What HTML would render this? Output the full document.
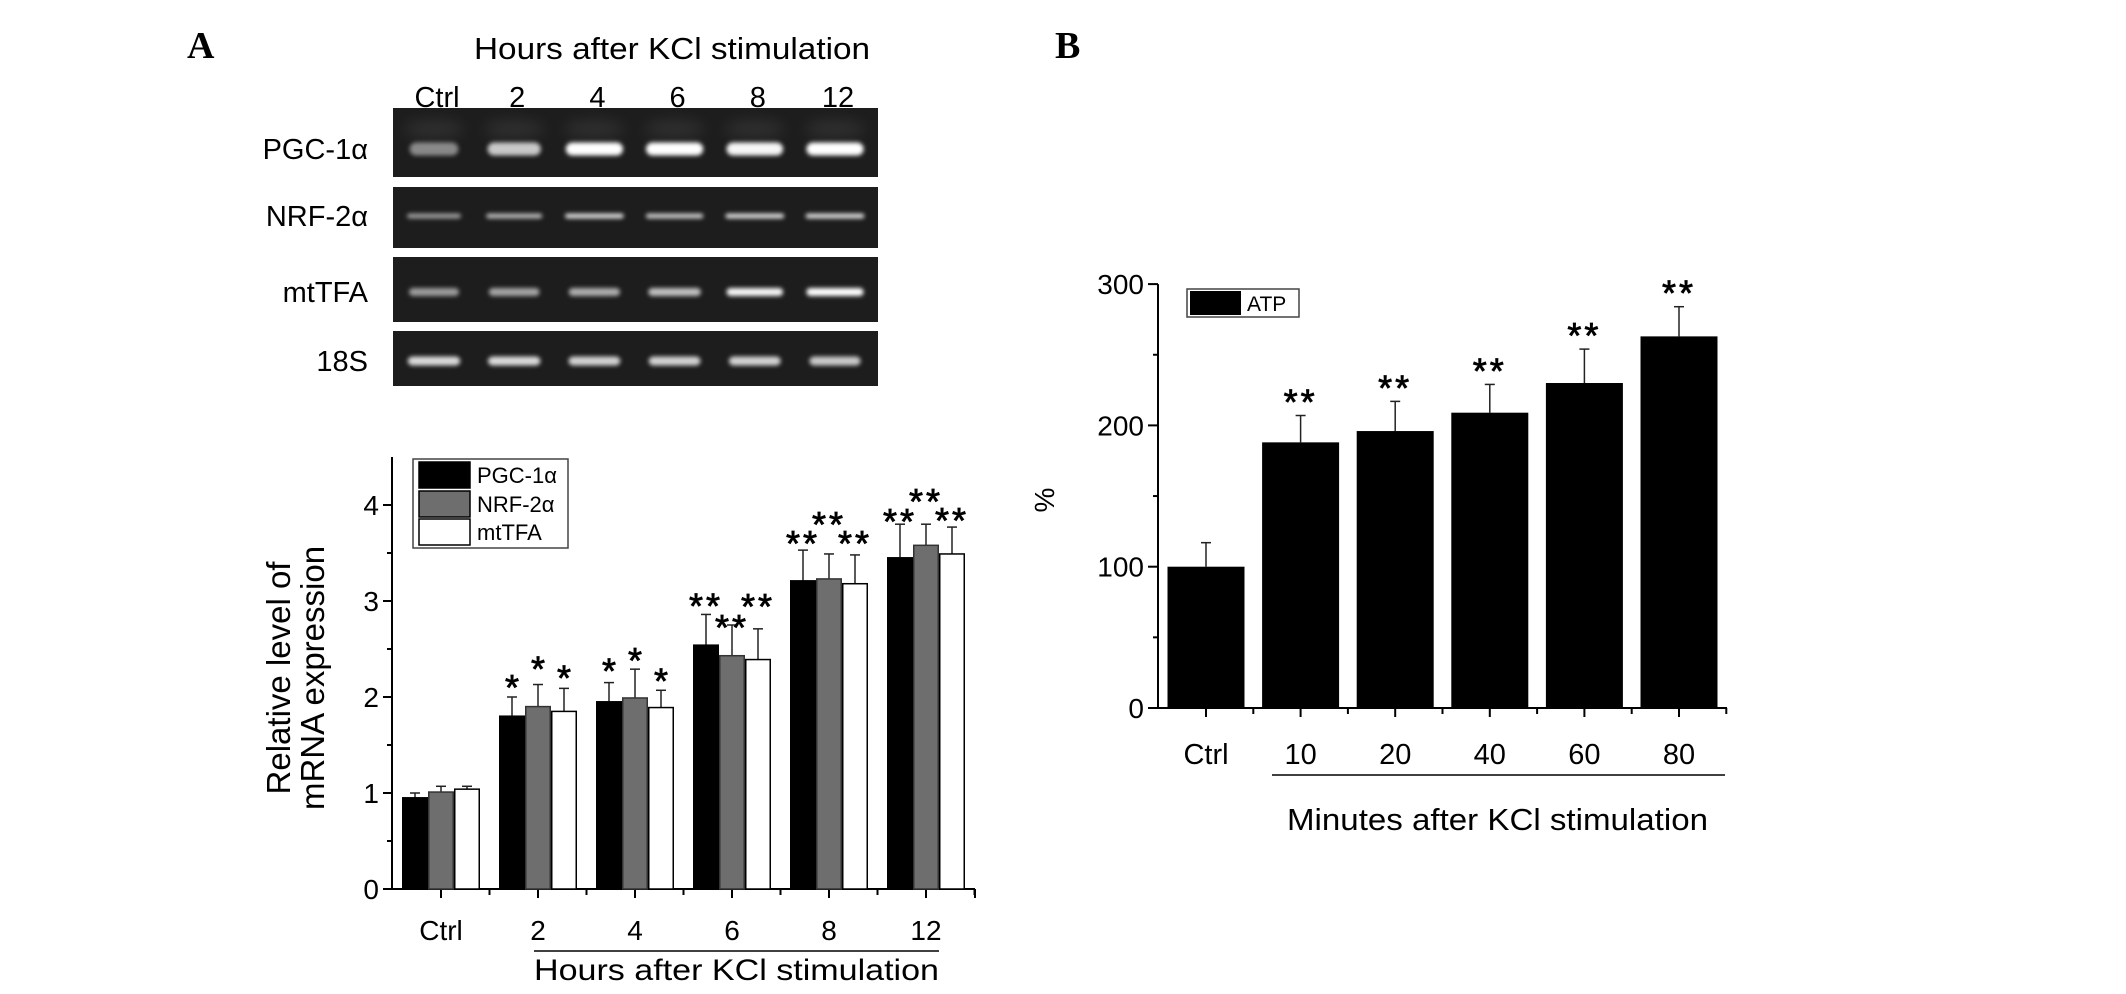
<!DOCTYPE html>
<html><head><meta charset="utf-8"><style>
html,body{margin:0;padding:0;background:#fff;}
svg{display:block;font-family:"Liberation Sans",Arial,sans-serif;}
</style></head><body>
<svg id="fig" width="2126" height="994" viewBox="0 0 2126 994" xmlns="http://www.w3.org/2000/svg">
<defs>
<filter id="blur" x="-30%" y="-100%" width="160%" height="300%"><feGaussianBlur stdDeviation="2.2"/></filter>
<filter id="glow" x="-30%" y="-200%" width="160%" height="500%"><feGaussianBlur stdDeviation="7"/></filter>
</defs>
<text x="187" y="58" font-family="Liberation Serif,serif" font-weight="bold" font-size="38">A</text>
<text x="1055" y="58" font-family="Liberation Serif,serif" font-weight="bold" font-size="38">B</text>
<text x="474" y="59" font-size="31" textLength="396" lengthAdjust="spacingAndGlyphs">Hours after KCl stimulation</text>
<g id="gel"></g>
<g id="chartA"></g>
<g id="chartB"></g>
</svg>
<script>
// ---------- Gel data ----------
const lanes = ["Ctrl","2","4","6","8","12"];
const genes = ["PGC-1α","NRF-2α","mtTFA","18S"];
const bandPGC = [0.35,0.7,1.0,1.0,0.95,1.0];
const bandNRF = [0.45,0.6,0.8,0.7,0.8,0.8];
const bandMT = [0.45,0.5,0.55,0.65,0.95,1.0];
const band18S = [0.8,0.8,0.75,0.75,0.75,0.7];

// ---------- Chart A data ----------
const catsA = ["Ctrl","2","4","6","8","12"];
const seriesA = ["PGC-1α","NRF-2α","mtTFA"];
const pgcVals = [0.95,1.80,1.95,2.54,3.21,3.45];
const nrfVals = [1.01,1.90,1.99,2.43,3.23,3.58];
const mtVals  = [1.04,1.85,1.89,2.39,3.18,3.49];
const pgcErr = [0.05,0.20,0.20,0.32,0.32,0.35];
const nrfErr = [0.06,0.23,0.30,0.32,0.26,0.22];
const mtErr  = [0.03,0.24,0.18,0.32,0.30,0.28];
const pgcSig = ["","*","*","**","**","**"];
const nrfSig = ["","*","*","**","**","**"];
const mtSig  = ["","*","*","**","**","**"];
const yTicksA = [0,1,2,3,4];

// ---------- Chart B data ----------
const catsB = ["Ctrl","10","20","40","60","80"];
const atpVals = [100,188,196,209,230,263];
const atpErr = [17,19,21,20,24,21];
const atpSig = ["","**","**","**","**","**"];
const yTicksB = [0,100,200,300];

const NS="http://www.w3.org/2000/svg";
function mk(tag, attrs, parent, txt){
  const e=document.createElementNS(NS,tag);
  for(const k in attrs) e.setAttribute(k,attrs[k]);
  if(txt!==undefined) e.textContent=txt;
  parent.appendChild(e); return e;
}

// ---------- Gel ----------
(function(){
  const g=document.getElementById('gel');
  const laneX=i=>437+80.2*i;
  lanes.forEach((l,i)=>{
    const t=mk('text',{x:laneX(i),y:107,'font-size':29,'text-anchor':'middle'},g,l);
    
    
  });
  const rows=[{y0:108,y1:177,c:149,h:13,d:bandPGC,w:52},{y0:187,y1:248,c:216,h:5,d:bandNRF,w:56},{y0:257,y1:322,c:292,h:8,d:bandMT,w:52},{y0:331,y1:386,c:361,h:9,d:band18S,w:50}];
  rows.forEach((r,ri)=>{
    const lab=mk('text',{x:368,y:r.c+10,'font-size':29,'text-anchor':'end'},g,genes[ri]);
    
    
    const bg=mk('rect',{x:393,y:r.y0,width:485,height:r.y1-r.y0,fill:'#1d1d1d'},g);
    
    
    r.d.forEach((v,i)=>{
      const cx=laneX(i)-3;
      if(ri===0){ mk('ellipse',{cx:cx,cy:r.c-20,rx:30,ry:9,fill:'#fff',opacity:0.08,filter:'url(#glow)'},g); }
      const w=r.w*(0.85+0.25*v);
      const b=mk('rect',{x:cx-w/2,y:r.c-r.h/2,width:w,height:r.h,rx:r.h/2,fill:'#fff',opacity:0.2+0.8*v,filter:'url(#blur)'},g);
      
      
    });
  });
})();

// ---------- Chart A ----------
(function(){
  const g=document.getElementById('chartA');
  const x0=392,y0=889,unit=96,xEnd=975;
  const ys=v=>y0-v*unit;
  const xc=i=>441+97*i;
  const bw=26;
  mk('line',{x1:x0,y1:ys(4.5),x2:x0,y2:y0,stroke:'#000','stroke-width':2},g);
  mk('line',{x1:x0,y1:y0,x2:xEnd,y2:y0,stroke:'#000','stroke-width':2},g);
  yTicksA.forEach(t=>{
    mk('line',{x1:x0-9,y1:ys(t),x2:x0,y2:ys(t),stroke:'#000','stroke-width':2},g);
    const tl=mk('text',{x:x0-13,y:ys(t)+10,'font-size':28,'text-anchor':'end'},g,String(t));
    
    
    if(t<4) mk('line',{x1:x0-5,y1:ys(t+0.5),x2:x0,y2:ys(t+0.5),stroke:'#000','stroke-width':2},g);
  });
  const series=[{v:pgcVals,e:pgcErr,s:pgcSig,f:'#000',sf:'#000'},{v:nrfVals,e:nrfErr,s:nrfSig,f:'#6e6e6e',sf:'#333'},{v:mtVals,e:mtErr,s:mtSig,f:'#fff',sf:'#000'}];
  const lift=[[0,0,0],[18,24,19],[20,17,18],[17,6,31],[15,38,20],[11,31,15]];
  catsA.forEach((c,i)=>{
    const cx=xc(i);
    mk('line',{x1:cx,y1:y0,x2:cx,y2:y0+9,stroke:'#000','stroke-width':2},g);
    mk('line',{x1:cx+48.5,y1:y0,x2:cx+48.5,y2:y0+6,stroke:'#000','stroke-width':2},g);
    const xl=mk('text',{x:cx,y:940,'font-size':28,'text-anchor':'middle'},g,c);
    
    
    series.forEach((s,k)=>{
      const bx=cx-39+k*bw;
      const top=ys(s.v[i]), et=ys(s.v[i]+s.e[i]);
      mk('line',{x1:bx+bw/2,y1:top,x2:bx+bw/2,y2:et,stroke:'#222','stroke-width':1.5},g);
      mk('line',{x1:bx+bw/2-5,y1:et,x2:bx+bw/2+5,y2:et,stroke:'#222','stroke-width':1.5},g);
      const r=mk('rect',{x:bx+0.75,y:top,width:bw-1.5,height:y0-top,fill:s.f,stroke:s.sf,'stroke-width':1.5},g);
      
      
      if(s.s[i]){
        const st=mk('text',{x:bx+bw/2,y:et-lift[i][k]+21,'font-size':36,'stroke':'#000','stroke-width':0.8,'text-anchor':'middle','letter-spacing':s.s[i].length>1?3:0},g,s.s[i]);
        
        
      }
    });
  });
  mk('line',{x1:xEnd,y1:y0,x2:xEnd,y2:y0+9,stroke:'#000','stroke-width':2},g);
  const yt=mk('text',{transform:'translate(290,678) rotate(-90)','font-size':33,'text-anchor':'middle'},g,'Relative level of');
  
  
  const yt2=mk('text',{transform:'translate(324,678) rotate(-90)','font-size':33,'text-anchor':'middle'},g,'mRNA expression');
  
  
  mk('line',{x1:534,y1:951,x2:939,y2:951,stroke:'#000','stroke-width':1.5},g);
  const xt=mk('text',{x:534,y:980,'font-size':30,textLength:405,lengthAdjust:'spacingAndGlyphs'},g,'Hours after KCl stimulation');
  
  
  const lg=mk('g',{},g);
  
  
  mk('rect',{x:413,y:459,width:155,height:89,fill:'#fff',stroke:'#444','stroke-width':1.5},lg);
  const ly=[462,491,519];
  seriesA.forEach((s,k)=>{
    const sw=mk('rect',{x:419,y:ly[k],width:51,height:26,fill:series[k].f,stroke:'#000','stroke-width':1.5},lg);
    
    
    const lt=mk('text',{x:477,y:ly[k]+21,'font-size':22},lg,s);
    
    
  });
})();

// ---------- Chart B ----------
(function(){
  const g=document.getElementById('chartB');
  const x0=1158,y0=708,unit=1.413,xEnd=1727;
  const ys=v=>y0-v*unit;
  const xc=i=>1206+94.6*i;
  const bw=77;
  mk('line',{x1:x0,y1:ys(300),x2:x0,y2:y0,stroke:'#000','stroke-width':2},g);
  mk('line',{x1:x0,y1:y0,x2:xEnd,y2:y0,stroke:'#000','stroke-width':2},g);
  yTicksB.forEach(t=>{
    mk('line',{x1:x0-10,y1:ys(t),x2:x0,y2:ys(t),stroke:'#000','stroke-width':2},g);
    const tl=mk('text',{x:x0-14,y:ys(t)+10,'font-size':28,'text-anchor':'end'},g,String(t));
    
    
    if(t<300) mk('line',{x1:x0-5,y1:ys(t+50),x2:x0,y2:ys(t+50),stroke:'#000','stroke-width':2},g);
  });
  catsB.forEach((c,i)=>{
    const cx=xc(i);
    mk('line',{x1:cx,y1:y0,x2:cx,y2:y0+9,stroke:'#000','stroke-width':2},g);
    mk('line',{x1:cx+47.3,y1:y0,x2:cx+47.3,y2:y0+6,stroke:'#000','stroke-width':2},g);
    const xl=mk('text',{x:cx,y:764,'font-size':29,'text-anchor':'middle'},g,c);
    
    
    const top=ys(atpVals[i]), et=ys(atpVals[i]+atpErr[i]);
    mk('line',{x1:cx,y1:top,x2:cx,y2:et,stroke:'#222','stroke-width':1.5},g);
    mk('line',{x1:cx-5,y1:et,x2:cx+5,y2:et,stroke:'#222','stroke-width':1.5},g);
    const r=mk('rect',{x:cx-bw/2,y:top,width:bw,height:y0-top,fill:'#000'},g);
    
    
    if(atpSig[i]){
      const st=mk('text',{x:cx,y:et-22+21,'font-size':36,'stroke':'#000','stroke-width':0.8,'text-anchor':'middle','letter-spacing':3},g,atpSig[i]);
      
      
    }
  });
  const yt=mk('text',{transform:'translate(1054,500) rotate(-90)','font-size':28,'text-anchor':'middle'},g,'%');
  
  
  mk('line',{x1:1272,y1:775,x2:1725,y2:775,stroke:'#000','stroke-width':1.5},g);
  const xt=mk('text',{x:1287,y:830,'font-size':31,textLength:421,lengthAdjust:'spacingAndGlyphs'},g,'Minutes after KCl stimulation');
  
  
  const lg=mk('g',{},g);
  
  
  mk('rect',{x:1187,y:289,width:112,height:28,fill:'#fff',stroke:'#444','stroke-width':1.5},lg);
  mk('rect',{x:1190,y:291,width:51,height:24,fill:'#000'},lg);
  const lt=mk('text',{x:1247,y:311,'font-size':21},lg,'ATP');
  
  
})();
</script>
</body></html>
